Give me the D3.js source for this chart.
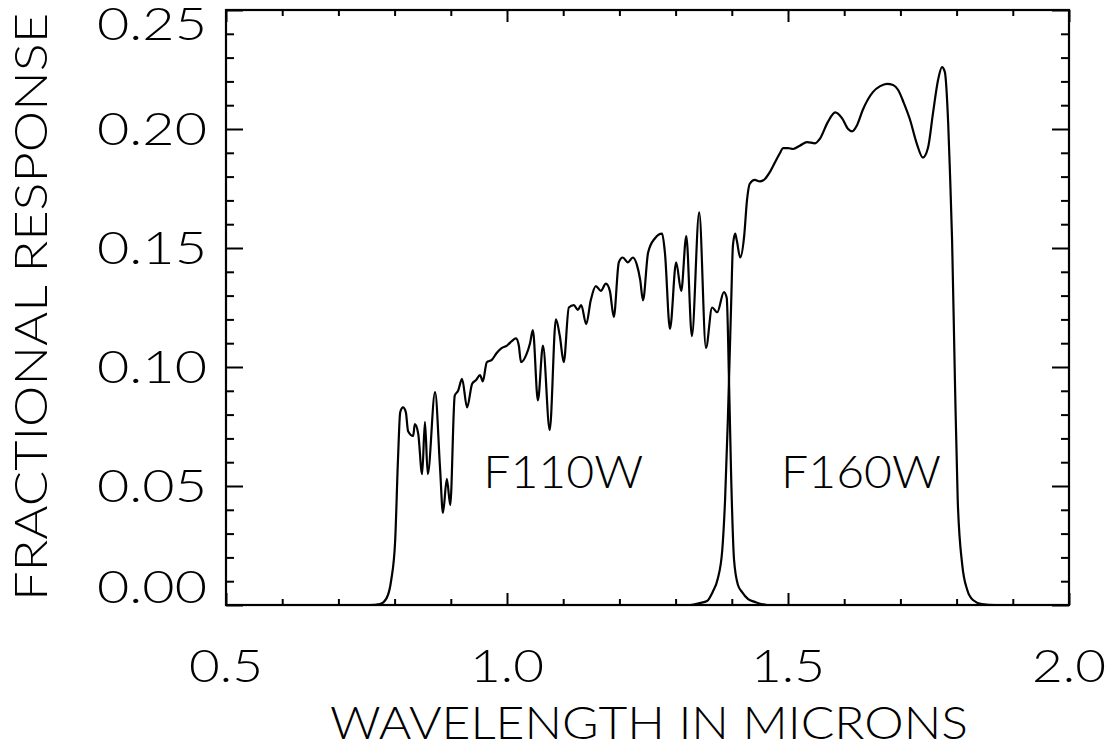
<!DOCTYPE html>
<html><head><meta charset="utf-8">
<script src="https://cdn.jsdelivr.net/npm/d3@7"></script>
<style>
html,body{margin:0;padding:0;background:#fff;}
text{font-family:"Lato","Roboto","DejaVu Sans",sans-serif;font-weight:300;fill:#000;}
</style></head>
<body>
<svg id="chart" width="1116" height="753"></svg>
<script>
// ---- data (wavelength in microns, fractional response) ----
const f110wWave = [0.50,0.756,0.774,0.786,0.794,0.801,0.806,0.810,0.815,0.820,0.824,0.833,0.836,0.842,0.849,0.854,0.859,0.872,0.881,0.886,0.893,0.899,0.907,0.913,0.920,0.929,0.938,0.945,0.952,0.957,0.964,0.973,0.982,0.991,1.000,1.009,1.016,1.021,1.025,1.034,1.041,1.046,1.055,1.064,1.076,1.087,1.094,1.101,1.110,1.119,1.126,1.132,1.141,1.149,1.158,1.167,1.176,1.183,1.190,1.199,1.206,1.215,1.224,1.231,1.237,1.242,1.251,1.263,1.276,1.281,1.290,1.301,1.310,1.319,1.329,1.342,1.354,1.365,1.374,1.386,1.391,1.395,1.399,1.404,1.411,1.418,1.429,1.441,1.463,2.00];
const f110wResp = [0,0,0.0004,0.003,0.0105,0.027,0.061,0.081,0.083,0.081,0.073,0.071,0.076,0.072,0.055,0.077,0.055,0.0895,0.057,0.0387,0.053,0.042,0.088,0.090,0.095,0.083,0.093,0.0945,0.0966,0.094,0.102,0.103,0.106,0.108,0.109,0.111,0.112,0.109,0.102,0.105,0.110,0.1155,0.086,0.109,0.0735,0.120,0.113,0.102,0.125,0.126,0.124,0.126,0.118,0.128,0.134,0.132,0.135,0.132,0.121,0.144,0.146,0.144,0.146,0.143,0.1366,0.128,0.148,0.154,0.156,0.148,0.116,0.144,0.132,0.155,0.113,0.165,0.108,0.125,0.123,0.1315,0.129,0.0945,0.0525,0.019,0.0084,0.0055,0.0025,0.0013,0,0];
const f160wWave = [0.50,1.326,1.343,1.356,1.366,1.375,1.383,1.388,1.393,1.399,1.402,1.406,1.409,1.415,1.422,1.427,1.432,1.441,1.450,1.459,1.468,1.479,1.486,1.491,1.500,1.509,1.521,1.534,1.548,1.557,1.571,1.584,1.596,1.607,1.614,1.623,1.633,1.651,1.664,1.676,1.687,1.696,1.706,1.717,1.729,1.740,1.749,1.758,1.767,1.774,1.779,1.785,1.788,1.792,1.797,1.802,1.810,1.819,1.829,1.845,1.868,2.00];
const f160wResp = [0,0,0.0008,0.0017,0.0055,0.011,0.023,0.044,0.078,0.128,0.151,0.156,0.153,0.146,0.155,0.170,0.177,0.1786,0.178,0.179,0.182,0.187,0.190,0.192,0.192,0.1916,0.193,0.1945,0.194,0.196,0.203,0.207,0.2046,0.200,0.199,0.2017,0.208,0.2155,0.218,0.219,0.2185,0.2164,0.211,0.204,0.194,0.188,0.192,0.2067,0.2206,0.226,0.224,0.2025,0.183,0.153,0.0945,0.044,0.017,0.0063,0.0021,0.0004,0,0];
const xMajorTicks = [0.5,1.0,1.5,2.0];
const xTickLabels = ["0.5","1.0","1.5","2.0"];
const yMajorTicks = [0.00,0.05,0.10,0.15,0.20,0.25];
const yTickLabels = ["0.00","0.05","0.10","0.15","0.20","0.25"];
const filterNames = ["F110W","F160W"];
const filterLabelAt = [[1.10,0.050],[1.63,0.050]];

// ---- layout ----
const L=226,R=1069,T=10,B=605;
const svg=d3.select("#chart");
const x=d3.scaleLinear().domain([0.5,2.0]).range([L,R]);
const y=d3.scaleLinear().domain([0,0.25]).range([B,T]);

const xMinor=d3.range(0.5,2.0001,0.1).map(v=>+v.toFixed(2)).filter(v=>!xMajorTicks.some(m=>Math.abs(m-v)<1e-6));
const yMinor=d3.range(0,0.2501,0.01).map(v=>+v.toFixed(3)).filter(v=>!yMajorTicks.some(m=>Math.abs(m-v)<1e-6));

function ticks(axisFn,scale,vals,size,tx,ty){
  const g=svg.append("g").attr("transform",`translate(${tx},${ty})`)
   .call(axisFn(scale).tickValues(vals).tickSize(size).tickFormat(""));
  g.select(".domain").remove();
  g.selectAll(".tick line").attr("stroke","#000").attr("stroke-width",2);
  return g;
}
ticks(d3.axisBottom,x,xMajorTicks,-12,0,B);
ticks(d3.axisBottom,x,xMinor,-6,0,B);
ticks(d3.axisTop,x,xMajorTicks,-12,0,T);
ticks(d3.axisTop,x,xMinor,-6,0,T);
ticks(d3.axisLeft,y,yMajorTicks,-17,L,0);
ticks(d3.axisLeft,y,yMinor,-8,L,0);
ticks(d3.axisRight,y,yMajorTicks,-17,R,0);
ticks(d3.axisRight,y,yMinor,-8,R,0);

svg.append("rect").attr("x",L).attr("y",T).attr("width",R-L).attr("height",B-T)
  .attr("fill","none").attr("stroke","#000").attr("stroke-width",2.2);

const line=d3.line().x(d=>x(d[0])).y(d=>y(d[1])).curve(d3.curveMonotoneX);
[[f110wWave,f110wResp],[f160wWave,f160wResp]].forEach(([w,r])=>{
  svg.append("path").datum(w.map((v,i)=>[v,r[i]])).attr("d",line)
    .attr("fill","none").attr("stroke","#000").attr("stroke-width",2.2).attr("stroke-linejoin","round");
});

const FS=45;
xMajorTicks.forEach((v,i)=>{
  svg.append("text").attr("x",x(v)).attr("y",682).attr("text-anchor","middle")
    .attr("font-size",FS).attr("textLength",74).attr("lengthAdjust","spacingAndGlyphs").text(xTickLabels[i]);
});
yMajorTicks.forEach((v,i)=>{
  let cy=y(v);
  if(i===0) cy=587; if(i===yMajorTicks.length-1) cy=24;
  svg.append("text").attr("x",207).attr("y",cy+16).attr("text-anchor","end")
    .attr("font-size",FS).attr("textLength",110).attr("lengthAdjust","spacingAndGlyphs").text(yTickLabels[i]);
});
filterNames.forEach((n,i)=>{
  svg.append("text").attr("x",x(filterLabelAt[i][0])).attr("y",y(filterLabelAt[i][1])+2)
    .attr("text-anchor","middle").attr("font-size",FS).attr("textLength",160).attr("lengthAdjust","spacingAndGlyphs").text(n);
});
svg.append("text").attr("x",649).attr("y",739).attr("text-anchor","middle")
  .attr("font-size",FS).attr("textLength",638).attr("lengthAdjust","spacingAndGlyphs").text("WAVELENGTH IN MICRONS");
svg.append("text").attr("transform","translate(47,307) rotate(-90)").attr("text-anchor","middle")
  .attr("font-size",FS).attr("textLength",588).attr("lengthAdjust","spacingAndGlyphs").text("FRACTIONAL RESPONSE");
</script>
</body></html>
